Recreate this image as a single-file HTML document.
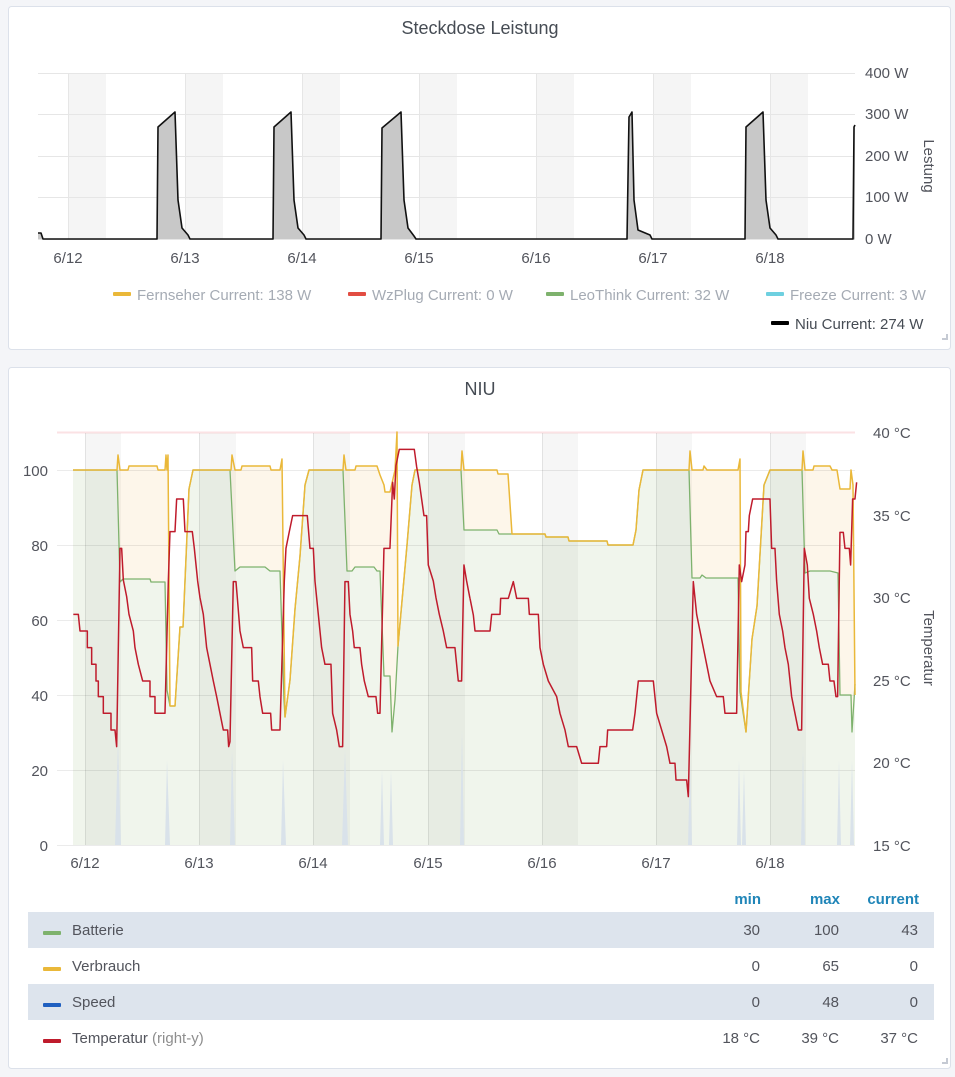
<!DOCTYPE html>
<html><head><meta charset="utf-8"><style>
html,body{margin:0;padding:0;background:#f4f5f8;width:955px;height:1077px;overflow:hidden}
svg{display:block;font-family:"Liberation Sans",sans-serif}
</style></head><body>
<svg width="955" height="1077" viewBox="0 0 955 1077" xmlns="http://www.w3.org/2000/svg" xml:space="preserve">
<rect x="8.5" y="6.5" width="942" height="343" rx="3" fill="#fff" stroke="#dce1ea"/>
<rect x="8.5" y="367.5" width="942" height="701" rx="3" fill="#fff" stroke="#dce1ea"/>
<text x="480" y="34" text-anchor="middle" font-size="18" fill="#464c54">Steckdose Leistung</text>
<text x="480" y="395" text-anchor="middle" font-size="18" fill="#464c54">NIU</text>

<!-- top chart -->
<g fill="#f5f5f5">
<rect x="68" y="73" width="38" height="166"/><rect x="185" y="73" width="38" height="166"/><rect x="302" y="73" width="38" height="166"/><rect x="419" y="73" width="38" height="166"/><rect x="536" y="73" width="38" height="166"/><rect x="653" y="73" width="38" height="166"/><rect x="770" y="73" width="38" height="166"/>
</g>
<g stroke="#e6e6e6" stroke-width="1">
<line x1="38" y1="73.5" x2="855" y2="73.5"/><line x1="38" y1="114.5" x2="855" y2="114.5"/><line x1="38" y1="156.5" x2="855" y2="156.5"/><line x1="38" y1="197.5" x2="855" y2="197.5"/><line x1="38" y1="239.5" x2="855" y2="239.5"/>
<line x1="68.5" y1="73" x2="68.5" y2="239"/><line x1="185.5" y1="73" x2="185.5" y2="239"/><line x1="302.5" y1="73" x2="302.5" y2="239"/><line x1="419.5" y1="73" x2="419.5" y2="239"/><line x1="536.5" y1="73" x2="536.5" y2="239"/><line x1="653.5" y1="73" x2="653.5" y2="239"/><line x1="770.5" y1="73" x2="770.5" y2="239"/>
</g>
<polygon fill="#c8c8c8" points="38,239 38,233 41,233 43,239 157,239 158,127 175,112 178,200 182,228 188,235 190,239 273,239 274,127 291,112 294,200 298,228 304,235 306,239 381,239 382,128 401,112 404,200 408,228 414,236 416,239 627,239 629,117 632,112 634,200 638,230 650,235 652,239 745,239 746,127 763,112 766,200 770,228 776,235 778,239 853,239 854,127 855,125 855,239"/>
<polyline fill="none" stroke="#111" stroke-width="1.6" stroke-linejoin="round" points="38,233 41,233 43,239 157,239 158,127 175,112 178,200 182,228 188,235 190,239 273,239 274,127 291,112 294,200 298,228 304,235 306,239 381,239 382,128 401,112 404,200 408,228 414,236 416,239 627,239 629,117 632,112 634,200 638,230 650,235 652,239 745,239 746,127 763,112 766,200 770,228 776,235 778,239 853,239 854,127 855,125"/>
<g font-size="15" fill="#52545c">
<text x="865" y="78">400 W</text><text x="865" y="119">300 W</text><text x="865" y="161">200 W</text><text x="865" y="202">100 W</text><text x="865" y="244">0 W</text>
<g text-anchor="middle"><text x="68" y="263">6/12</text><text x="185" y="263">6/13</text><text x="302" y="263">6/14</text><text x="419" y="263">6/15</text><text x="536" y="263">6/16</text><text x="653" y="263">6/17</text><text x="770" y="263">6/18</text></g>
<text transform="translate(924,166) rotate(90)" text-anchor="middle">Lestung</text>
</g>
<g font-size="15" fill="#a5abb4">
<rect x="113" y="292" width="18" height="4" rx="1" fill="#eab839"/><text x="137" y="300">Fernseher  Current: 138 W</text>
<rect x="348" y="292" width="18" height="4" rx="1" fill="#e24d42"/><text x="372" y="300">WzPlug  Current: 0 W</text>
<rect x="546" y="292" width="18" height="4" rx="1" fill="#7eb26d"/><text x="570" y="300">LeoThink  Current: 32 W</text>
<rect x="766" y="292" width="18" height="4" rx="1" fill="#6ed0e0"/><text x="790" y="300">Freeze  Current: 3 W</text>
</g>
<rect x="771" y="321" width="18" height="4" rx="1" fill="#000"/>
<text x="795" y="329" font-size="15" fill="#464c54">Niu  Current: 274 W</text>
<path d="M942 340h6v-6h-2v4h-4z" fill="#c5cad3"/>

<!-- bottom chart -->
<line x1="57" y1="432.5" x2="855" y2="432.5" stroke="#fbe2e4" stroke-width="2"/>
<polygon fill="#fdf6ea" points="73,845 73,470 117,470 118,455 120,470 128,470 129,466 157,466 158,470 165,470 166,455 167,470 168,455 170,706 175,706 180,627 183,627 189,489 193,470 231,470 232,455 235,470 241,470 242,466 270,466 271,470 280,470 282,459 285,717 290,680 295,609 300,556 305,485 309,470 343,470 344,455 346,470 355,470 356,466 377,466 380,475 384,485 385,492 390,492 395,470 397,432 398,646 402,601 407,545 412,485 415,470 461,470 462,451 464,470 497,470 498,474 508,474 512,534 545,534 546,537 568,537 569,541 607,541 608,545 633,545 636,530 639,490 643,470 689,470 690,451 692,470 703,470 704,466 707,470 738,470 740,459 741,692 746,732 752,639 757,606 764,485 770,470 802,470 803,451 805,470 813,470 814,466 830,466 832,470 837,470 840,489 850,489 851,470 853,485 855,695 855,845"/>
<polygon fill="#f0f5ec" points="73,845 73,470 117,470 120,582 123,579 150,579 151,582 165,582 167,690 170,706 175,706 180,627 183,627 189,489 193,470 230,470 235,571 240,567 265,567 270,571 280,571 284,700 285,717 290,680 295,609 300,556 305,485 309,470 343,470 347,571 352,571 355,567 374,567 377,571 380,571 384,676 390,676 392,732 395,700 398,646 402,601 407,545 412,485 415,470 461,470 464,530 497,530 499,534 545,534 546,537 568,537 569,541 607,541 608,545 633,545 636,530 639,490 643,470 689,470 692,578 700,578 702,575 706,578 738,578 740,692 746,732 752,639 757,606 764,485 770,470 802,470 805,573 810,571 830,571 838,573 840,695 851,695 852,732 855,684 855,845"/>
<g fill="#000" fill-opacity="0.035">
<rect x="85" y="433" width="36" height="412"/><rect x="199" y="433" width="37" height="412"/><rect x="313" y="433" width="37" height="412"/><rect x="428" y="433" width="37" height="412"/><rect x="542" y="433" width="36" height="412"/><rect x="656" y="433" width="36" height="412"/><rect x="770" y="433" width="36" height="412"/>
</g>
<g stroke="#000" stroke-opacity="0.08" stroke-width="1">
<line x1="57" y1="470.5" x2="855" y2="470.5"/><line x1="57" y1="545.5" x2="855" y2="545.5"/><line x1="57" y1="620.5" x2="855" y2="620.5"/><line x1="57" y1="695.5" x2="855" y2="695.5"/><line x1="57" y1="770.5" x2="855" y2="770.5"/><line x1="57" y1="845.5" x2="855" y2="845.5"/>
<line x1="85.5" y1="433" x2="85.5" y2="845"/><line x1="199.5" y1="433" x2="199.5" y2="845"/><line x1="313.5" y1="433" x2="313.5" y2="845"/><line x1="428.5" y1="433" x2="428.5" y2="845"/><line x1="542.5" y1="433" x2="542.5" y2="845"/><line x1="656.5" y1="433" x2="656.5" y2="845"/><line x1="770.5" y1="433" x2="770.5" y2="845"/>
</g>
<g fill="#d9e2ea">
<polygon points="115,845 118,740 121,845"/><polygon points="165,845 167,760 170,845"/><polygon points="230,845 232,750 235,845"/><polygon points="281,845 283,760 286,845"/><polygon points="342,845 345,750 348,845"/><polygon points="380,845 382,770 384,845"/><polygon points="389,845 391,770 393,845"/><polygon points="460,845 462,730 464,845"/><polygon points="688,845 690,760 692,845"/><polygon points="737,845 739,760 741,845"/><polygon points="742,845 744,770 746,845"/><polygon points="801,845 803,750 805,845"/><polygon points="837,845 839,760 841,845"/><polygon points="850,845 852,760 854,845"/>
</g>
<polyline fill="none" stroke="#7eb26d" stroke-width="1.3" stroke-linejoin="round" points="73,470 117,470 120,582 123,579 150,579 151,582 165,582 167,690 170,706 175,706 180,627 183,627 189,489 193,470 230,470 235,571 240,567 265,567 270,571 280,571 284,700 285,717 290,680 295,609 300,556 305,485 309,470 343,470 347,571 352,571 355,567 374,567 377,571 380,571 384,676 390,676 392,732 395,700 398,646 402,601 407,545 412,485 415,470 461,470 464,530 497,530 499,534 512,534 545,534 546,537 568,537 569,541 607,541 608,545 633,545 636,530 639,490 643,470 689,470 692,578 700,578 702,575 706,578 738,578 740,692 746,732 752,639 757,606 764,485 770,470 802,470 805,573 810,571 830,571 838,573 840,695 851,695 852,732 855,684"/>
<polyline fill="none" stroke="#eab839" stroke-width="1.5" stroke-linejoin="round" points="73,470 117,470 118,455 120,470 128,470 129,466 157,466 158,470 165,470 166,455 167,470 168,455 170,706 175,706 180,627 183,627 189,489 193,470 231,470 232,455 235,470 241,470 242,466 270,466 271,470 280,470 282,459 285,717 290,680 295,609 300,556 305,485 309,470 343,470 344,455 346,470 355,470 356,466 377,466 380,475 384,485 385,492 390,492 395,470 397,432 398,646 402,601 407,545 412,485 415,470 461,470 462,451 464,470 497,470 498,474 508,474 512,534 545,534 546,537 568,537 569,541 607,541 608,545 633,545 636,530 639,490 643,470 689,470 690,451 692,470 703,470 704,466 707,470 738,470 740,459 741,692 746,732 752,639 757,606 764,485 770,470 802,470 803,451 805,470 813,470 814,466 830,466 832,470 837,470 840,489 850,489 851,470 853,485 855,695"/>
<g fill="none" stroke="#bf1b2c" stroke-width="1.5" stroke-linejoin="round">
<polyline vector-effect="non-scaling-stroke" transform="translate(0,420) scale(0.3333)" points="220,583 235,583 240,633 262,633 262,683 275,683 275,733 288,733 288,783 295,783 295,830 310,830 310,880 333,880 333,930 345,930 350,980 360,385 365,385 370,480 380,530 387,583 400,633 405,683 415,733 428,783 450,783 450,830 465,830 465,880 495,880 505,485 510,335 525,335 530,237 550,237 555,335 577,335 583,385 593,483 600,533 610,583 620,683 630,733 640,783 650,830 660,880 670,930 683,930 686,980 690,965 700,485 708,485 712,533 720,633 730,683 755,683 758,783 775,783 780,830 788,880 812,880 815,930 840,930 853,483 858,385 868,335 878,287 922,287 930,385 940,385 945,483 955,583 965,683 975,733 993,733 998,880 1010,930 1018,980 1028,980 1035,485 1045,485 1050,583 1058,633 1063,683 1080,683 1085,733 1093,783 1105,830 1128,830 1133,880 1140,880 1152,385 1170,385 1178,187 1183,237 1188,137 1198,88 1243,88 1250,140 1258,187 1265,237 1272,287 1280,287 1285,435 1300,483 1308,533 1318,583 1330,633 1340,683 1365,683 1375,783 1385,783 1392,435 1400,483 1410,535"/>
<polyline vector-effect="non-scaling-stroke" transform="translate(470,420) scale(0.3333)" points="0,535 10,585 15,633 60,633 65,583 90,583 92,535 115,535 130,485 140,535 175,535 178,583 205,583 210,683 220,733 235,783 260,830 270,880 285,930 295,980 320,980 335,1030 385,1030 390,980 410,980 413,930 488,930 495,880 505,783 550,783 560,880 575,930 590,980 600,1030 615,1030 618,1080 650,1080 655,1130 670,485 680,583 690,633 700,683 710,733 720,783 740,830 760,830 765,880 800,880 808,435 815,485 825,435 828,335 835,335 838,287 848,237 900,237 905,385 915,385 920,483 928,583 938,633 945,683 955,733 965,830 975,880 985,930 995,930 1003,385 1012,435 1018,535 1030,583 1040,633 1048,683 1058,733 1075,733 1080,783 1092,783 1098,830 1103,830 1110,337 1120,337 1125,385 1138,385 1142,435 1148,237 1155,237 1160,187"/>
</g>
<g font-size="15" fill="#52545c">
<g text-anchor="end"><text x="48" y="476">100</text><text x="48" y="551">80</text><text x="48" y="626">60</text><text x="48" y="701">40</text><text x="48" y="776">20</text><text x="48" y="851">0</text></g>
<text x="873" y="438">40 °C</text><text x="873" y="521">35 °C</text><text x="873" y="603">30 °C</text><text x="873" y="686">25 °C</text><text x="873" y="768">20 °C</text><text x="873" y="851">15 °C</text>
<g text-anchor="middle"><text x="85" y="868">6/12</text><text x="199" y="868">6/13</text><text x="313" y="868">6/14</text><text x="428" y="868">6/15</text><text x="542" y="868">6/16</text><text x="656" y="868">6/17</text><text x="770" y="868">6/18</text></g>
<text transform="translate(924,648) rotate(90)" text-anchor="middle">Temperatur</text>
</g>
<g font-size="15" font-weight="bold" fill="#1f85b8" text-anchor="end"><text x="761" y="904">min</text><text x="840" y="904">max</text><text x="919" y="904">current</text></g>
<rect x="28" y="912" width="906" height="36" fill="#dde4ed"/>
<rect x="28" y="984" width="906" height="36" fill="#dde4ed"/>
<rect x="43" y="931" width="18" height="4" rx="1" fill="#7eb26d"/>
<rect x="43" y="967" width="18" height="4" rx="1" fill="#eab839"/>
<rect x="43" y="1003" width="18" height="4" rx="1" fill="#1f5fc0"/>
<rect x="43" y="1039" width="18" height="4" rx="1" fill="#bf1b2c"/>
<g font-size="15" fill="#52545c">
<text x="72" y="935">Batterie</text><text x="72" y="971">Verbrauch</text><text x="72" y="1007">Speed</text><text x="72" y="1043">Temperatur  <tspan fill="#8e8e8e">(right-y)</tspan></text>
<g text-anchor="end">
<text x="760" y="935">30</text><text x="839" y="935">100</text><text x="918" y="935">43</text>
<text x="760" y="971">0</text><text x="839" y="971">65</text><text x="918" y="971">0</text>
<text x="760" y="1007">0</text><text x="839" y="1007">48</text><text x="918" y="1007">0</text>
<text x="760" y="1043">18 °C</text><text x="839" y="1043">39 °C</text><text x="918" y="1043">37 °C</text>
</g></g>
<path d="M942 1064h6v-6h-2v4h-4z" fill="#c5cad3"/>
</svg>
</body></html>
